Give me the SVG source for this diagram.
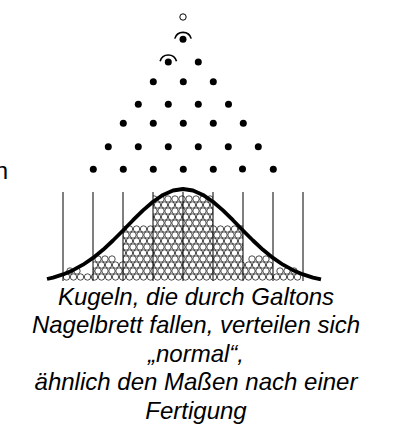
<svg xmlns="http://www.w3.org/2000/svg" xmlns:xlink="http://www.w3.org/1999/xlink" width="393" height="431" viewBox="0 0 393 431">
<style>
.peg{fill:#000}
.div{stroke:#000;stroke-width:1;fill:none}
.ball{fill:#fff;stroke:#000;stroke-width:0.7}
.cap{font-family:"Liberation Sans",Arial,sans-serif;font-size:24px;font-style:italic;fill:#000;text-anchor:middle}
.lbl{font-family:"Liberation Sans",Arial,sans-serif;font-size:24px;fill:#000;text-anchor:end}
</style>
<defs>
<circle id="b" r="3.2" class="ball"/>
<g id="re">
<use href="#b" x="66.5" y="277"/><use href="#b" x="73.5" y="277"/><use href="#b" x="80.5" y="277"/><use href="#b" x="87.5" y="277"/><use href="#b" x="94.5" y="277"/><use href="#b" x="101.5" y="277"/><use href="#b" x="108.5" y="277"/><use href="#b" x="115.5" y="277"/><use href="#b" x="122.5" y="277"/><use href="#b" x="129.5" y="277"/><use href="#b" x="136.5" y="277"/><use href="#b" x="143.5" y="277"/><use href="#b" x="150.5" y="277"/><use href="#b" x="157.5" y="277"/><use href="#b" x="164.5" y="277"/><use href="#b" x="171.5" y="277"/><use href="#b" x="178.5" y="277"/><use href="#b" x="185.5" y="277"/><use href="#b" x="192.5" y="277"/><use href="#b" x="199.5" y="277"/><use href="#b" x="206.5" y="277"/><use href="#b" x="213.5" y="277"/><use href="#b" x="220.5" y="277"/><use href="#b" x="227.5" y="277"/><use href="#b" x="234.5" y="277"/><use href="#b" x="241.5" y="277"/><use href="#b" x="248.5" y="277"/><use href="#b" x="255.5" y="277"/><use href="#b" x="262.5" y="277"/><use href="#b" x="269.5" y="277"/><use href="#b" x="276.5" y="277"/><use href="#b" x="283.5" y="277"/><use href="#b" x="290.5" y="277"/><use href="#b" x="297.5" y="277"/>
</g>
<g id="ro">
<use href="#b" x="63" y="277"/><use href="#b" x="70" y="277"/><use href="#b" x="77" y="277"/><use href="#b" x="84" y="277"/><use href="#b" x="91" y="277"/><use href="#b" x="98" y="277"/><use href="#b" x="105" y="277"/><use href="#b" x="112" y="277"/><use href="#b" x="119" y="277"/><use href="#b" x="126" y="277"/><use href="#b" x="133" y="277"/><use href="#b" x="140" y="277"/><use href="#b" x="147" y="277"/><use href="#b" x="154" y="277"/><use href="#b" x="161" y="277"/><use href="#b" x="168" y="277"/><use href="#b" x="175" y="277"/><use href="#b" x="182" y="277"/><use href="#b" x="189" y="277"/><use href="#b" x="196" y="277"/><use href="#b" x="203" y="277"/><use href="#b" x="210" y="277"/><use href="#b" x="217" y="277"/><use href="#b" x="224" y="277"/><use href="#b" x="231" y="277"/><use href="#b" x="238" y="277"/><use href="#b" x="245" y="277"/><use href="#b" x="252" y="277"/><use href="#b" x="259" y="277"/><use href="#b" x="266" y="277"/><use href="#b" x="273" y="277"/><use href="#b" x="280" y="277"/><use href="#b" x="287" y="277"/><use href="#b" x="294" y="277"/><use href="#b" x="301" y="277"/>
</g>
<clipPath id="c1"><rect x="63" y="185" width="240" height="100"/></clipPath>
<clipPath id="c2"><rect x="93" y="185" width="180" height="100"/></clipPath>
<clipPath id="c3"><rect x="123" y="185" width="120" height="100"/></clipPath>
<clipPath id="c4"><rect x="153" y="185" width="60" height="100"/></clipPath>
</defs>
<rect width="393" height="431" fill="#fff"/>
<g id="balls">
<g clip-path="url(#c1)"><use href="#re"/></g>
<g clip-path="url(#c2)"><use href="#ro" y="-6"/><use href="#re" y="-12"/></g>
<g clip-path="url(#c3)"><use href="#ro" y="-18"/><use href="#re" y="-24"/><use href="#ro" y="-30"/><use href="#re" y="-36"/><use href="#ro" y="-42"/><use href="#re" y="-48"/></g>
<g clip-path="url(#c4)"><use href="#ro" y="-54"/><use href="#re" y="-60"/><use href="#ro" y="-66"/><use href="#re" y="-72"/><use href="#ro" y="-78"/></g>
<use href="#b" x="70" y="271"/><use href="#b" x="77" y="271"/>
<use href="#b" x="280" y="271"/><use href="#b" x="287" y="271"/><use href="#b" x="294" y="271"/>
<use href="#b" x="98" y="259"/><use href="#b" x="105" y="259"/><use href="#b" x="112" y="259"/>
<use href="#b" x="252" y="259"/><use href="#b" x="259" y="259"/><use href="#b" x="266" y="259"/>
</g>
<g id="dividers" class="div">
<line x1="63" y1="192" x2="63" y2="281"/>
<line x1="93" y1="192" x2="93" y2="281"/>
<line x1="123" y1="192" x2="123" y2="281"/>
<line x1="153" y1="192" x2="153" y2="281"/>
<line x1="183" y1="192" x2="183" y2="281"/>
<line x1="213" y1="192" x2="213" y2="281"/>
<line x1="243" y1="192" x2="243" y2="281"/>
<line x1="273" y1="192" x2="273" y2="281"/>
<line x1="303" y1="192" x2="303" y2="281"/>
</g>
<g id="pegs" class="peg">
<circle cx="183" cy="39.3" r="3.5"/>
<circle cx="168.3" cy="62" r="3.5"/><circle cx="198.3" cy="62" r="3.5"/>
<circle cx="153.3" cy="81.7" r="3.5"/><circle cx="183.3" cy="81.7" r="3.5"/><circle cx="213.3" cy="81.7" r="3.5"/>
<circle cx="138.3" cy="104.3" r="3.5"/><circle cx="168.3" cy="104.3" r="3.5"/><circle cx="198.3" cy="104.3" r="3.5"/><circle cx="228.5" cy="104.3" r="3.5"/>
<circle cx="123.3" cy="123.3" r="3.5"/><circle cx="153.3" cy="123.3" r="3.5"/><circle cx="183.3" cy="123.3" r="3.5"/><circle cx="213.3" cy="123.3" r="3.5"/><circle cx="243.3" cy="123.3" r="3.5"/>
<circle cx="108.3" cy="146.7" r="3.5"/><circle cx="138.3" cy="146.7" r="3.5"/><circle cx="168.3" cy="146.7" r="3.5"/><circle cx="198.3" cy="146.7" r="3.5"/><circle cx="228.3" cy="146.7" r="3.5"/><circle cx="258.3" cy="146.7" r="3.5"/>
<circle cx="93.3" cy="169.3" r="3.5"/><circle cx="123.3" cy="169.3" r="3.5"/><circle cx="153.3" cy="169.3" r="3.5"/><circle cx="183.3" cy="169.3" r="3.5"/><circle cx="213.3" cy="169.3" r="3.5"/><circle cx="242.5" cy="169" r="3.5"/><circle cx="273.3" cy="169.3" r="3.5"/>
</g>
<g id="ball-path" fill="none" stroke="#000">
<circle cx="183" cy="17" r="3.2" stroke-width="1"/>
<path d="M174.8,38.6 A8.5,8.5 0 0 1 191.2,38.6" stroke-width="1.6"/>
<path d="M160.1,61.3 A8.5,8.5 0 0 1 176.5,61.3" stroke-width="1.6"/>
</g>
<g id="curve">
<path d="M47,279 L53,277.6 L63,274.4 L73,270.2 L83,264.7 L93,257.9 L103,249.8 L113,240.5 L123,230.5 L133,220.2 L143,210.4 L153,201.7 L163,194.9 L173,190.5 L183,189 L193,190.5 L203,194.9 L213,201.7 L223,210.4 L233,220.2 L243,230.5 L253,240.5 L263,249.8 L273,257.9 L283,264.7 L293,270.2 L303,274.4 L313,277.6 L321,279.4" fill="none" stroke="#000" stroke-width="3.8" stroke-linejoin="round"/>
</g>
<g id="labels">
<text class="lbl" x="8" y="179">n</text>
<text class="cap" x="196" y="305">Kugeln, die durch Galtons</text>
<text class="cap" x="196" y="333.4">Nagelbrett fallen, verteilen sich</text>
<text class="cap" x="196" y="361.8">„normal“,</text>
<text class="cap" x="196" y="390.2">ähnlich den Maßen nach einer</text>
<text class="cap" x="196" y="418.6">Fertigung</text>
</g>
</svg>
